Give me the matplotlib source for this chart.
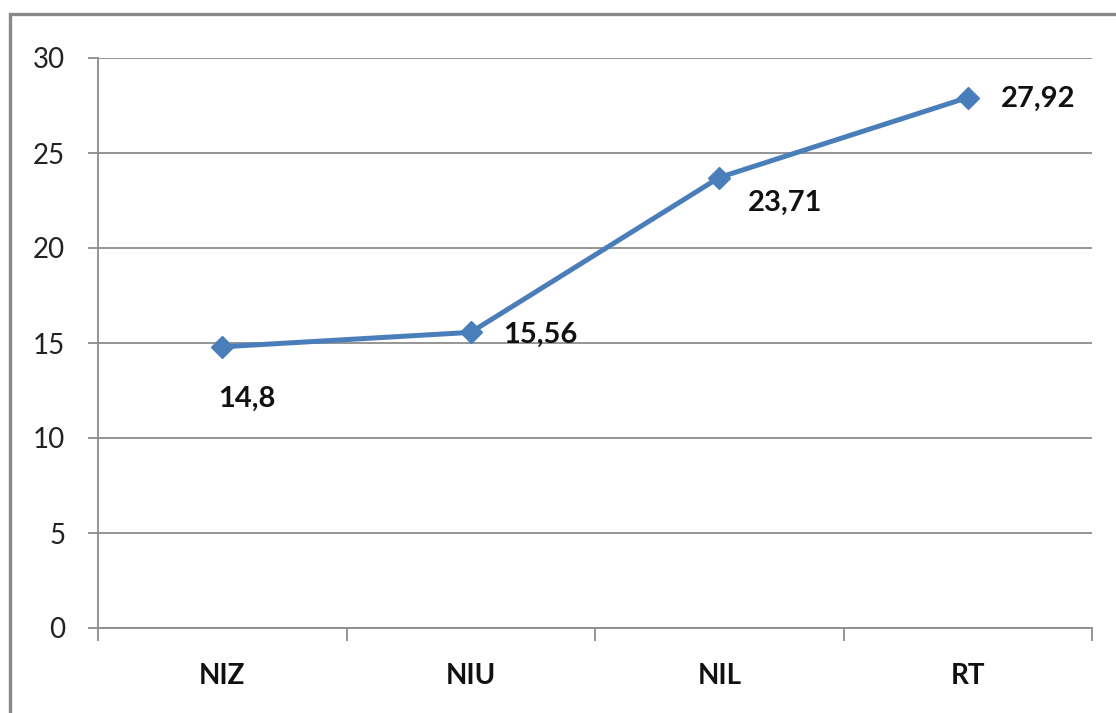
import matplotlib
matplotlib.use('Agg')

import matplotlib.pyplot as plt
from matplotlib.patches import Rectangle

categories = ["NIZ", "NIU", "NIL", "RT"]
values = [14.8, 15.56, 23.71, 27.92]
value_labels = ["14,8", "15,56", "23,71", "27,92"]
yticks = [0, 5, 10, 15, 20, 25, 30]

# label offsets in pixels from each point
label_offsets = [(-4, -52), (32, -2), (29, -25), (33, -1)]

plt.rcParams['font.family'] = ['Lato', 'DejaVu Sans']

GRAY = '#8c8c8c'
BLUE = '#4a7ebb'

fig = plt.figure(figsize=(11.16, 7.13), dpi=100)
ax = fig.add_axes([98 / 1116, 85 / 713, 994 / 1116, 570 / 713])

x = list(range(len(categories)))
ax.plot(x, values, color=BLUE, lw=3.6, marker='D', markersize=11.5,
        markerfacecolor=BLUE, markeredgecolor=BLUE, zorder=3)

for xi, v, lab, off in zip(x, values, value_labels, label_offsets):
    ax.annotate(lab, (xi, v), xytext=off, textcoords='offset pixels',
                ha='left', va='center', fontsize=21, fontweight='bold',
                color='#111111')

ax.set_xlim(-0.5, len(categories) - 0.5)
ax.set_ylim(0, 30)
ax.set_yticks(yticks)
ax.set_yticklabels([str(t) for t in yticks])
ax.yaxis.grid(True, color=GRAY, lw=1.3)
ax.set_axisbelow(True)

ax.set_xticks(x)
ax.set_xticklabels(categories, fontsize=20, fontweight='bold', color='#111111')
ax.set_xticks([i - 0.5 for i in range(len(categories) + 1)], minor=True)
ax.tick_params(axis='x', which='major', length=0, pad=25)
ax.tick_params(axis='x', which='minor', length=9, width=1.3, color=GRAY, direction='out')
ax.tick_params(axis='y', length=7.5, width=1.3, color=GRAY, labelsize=20,
               labelcolor='#222222', pad=16)

for s in ['top', 'right']:
    ax.spines[s].set_visible(False)
for s in ['left', 'bottom']:
    ax.spines[s].set_color(GRAY)
    ax.spines[s].set_linewidth(1.3)

# outer chart frame, cut off at right and bottom
frame = Rectangle((10 / 1116, -0.1), 1.2, (713 - 14) / 713 + 0.1,
                  transform=fig.transFigure, fill=False, edgecolor='#888888',
                  lw=2.4, zorder=10)
fig.patches.append(frame)

fig.savefig('out.png', dpi=100)
